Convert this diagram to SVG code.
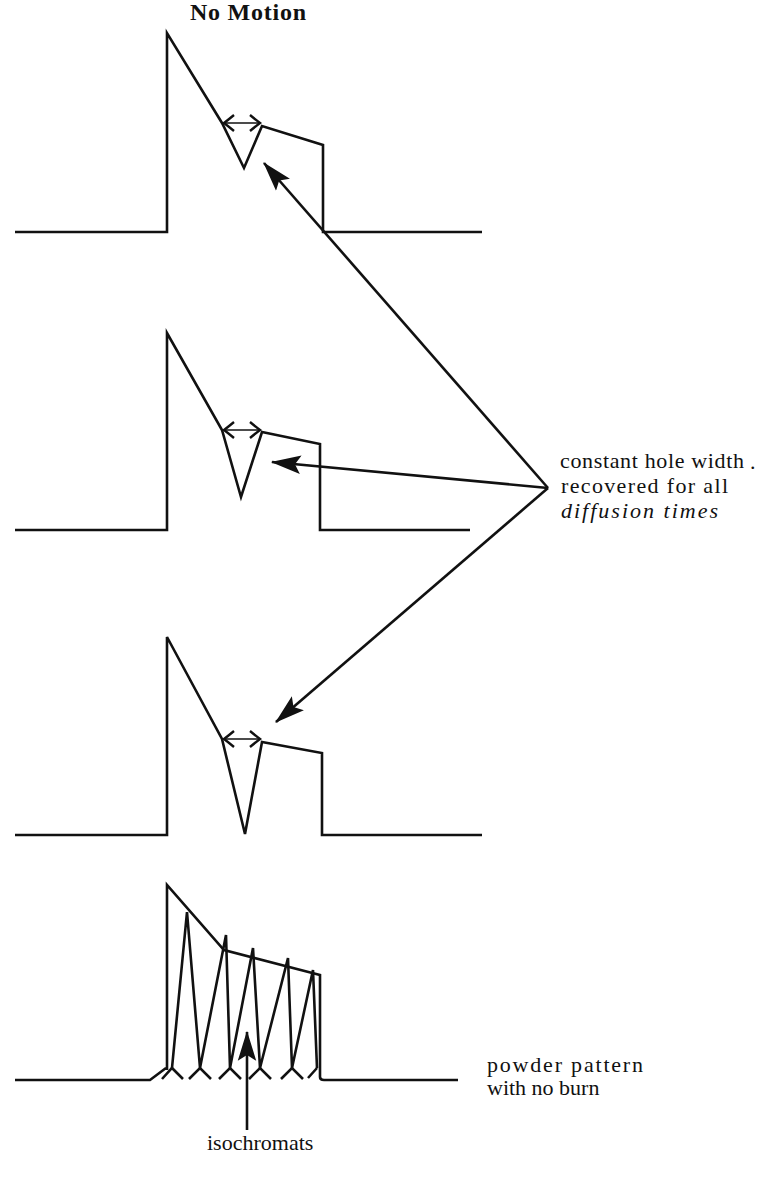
<svg xmlns="http://www.w3.org/2000/svg" width="775" height="1192" viewBox="0 0 775 1192">
<style>
.sp{fill:none;stroke:#111;stroke-width:2.6;stroke-linejoin:miter;stroke-linecap:butt}
.dbl{fill:none;stroke:#111;stroke-width:1.6}
.arr{fill:none;stroke:#111;stroke-width:2.6}
.lbl{font-family:"Liberation Serif","Times New Roman",serif;font-size:22px;fill:#111}
.ttl{font-family:"Liberation Serif","Times New Roman",serif;font-size:24px;fill:#111;font-weight:bold}
</style>
<defs>
<marker id="head" markerUnits="userSpaceOnUse" markerWidth="30" markerHeight="20" viewBox="0 0 26 16" refX="25" refY="8" orient="auto">
<path d="M0,0 L26,8 L0,16 L5,8 z" fill="#111"/>
</marker>
<marker id="chev" markerUnits="userSpaceOnUse" markerWidth="16" markerHeight="20" viewBox="-13 -10 16 20" refX="0" refY="0" orient="auto-start-reverse" overflow="visible">
<path d="M-10,-8 Q-4,-3 0,0 Q-4,3 -10,8" fill="none" stroke="#111" stroke-width="2.4"/>
</marker>
</defs>
<rect width="775" height="1192" fill="#fff"/>
<g id="title"><text class="ttl" x="190" y="20" textLength="116">No Motion</text></g>
<g id="spectrum1">
<path class="sp" d="M15,232 H167 V33 L222,123 L244,168 L262,126 L323,145 V232 H482"/>
<path class="dbl" d="M224,123 H260" marker-start="url(#chev)" marker-end="url(#chev)"/>
</g>
<g id="spectrum2">
<path class="sp" d="M15,530 H167 V333 L222,430 L241,497 L262,432 L320,444 V530 H470"/>
<path class="dbl" d="M224,430 H260" marker-start="url(#chev)" marker-end="url(#chev)"/>
</g>
<g id="spectrum3">
<path class="sp" d="M15,835 H167 V637 L222,739 L245,834 L262,742 L322,753 V835 H482"/>
<path class="dbl" d="M224,739 H260" marker-start="url(#chev)" marker-end="url(#chev)"/>
</g>
<g id="spectrum4">
<path class="sp" d="M15,1080 H150 L166,1068 M167,1070 V885 L224,950 L320,975 V1077 Q320,1080 324,1080 H458"/>
<path class="sp" d="M172,1068 L187,912 L200,1068 M200,1068 L226,935 L230,1068 M230,1068 L253,948 L260,1068 M260,1068 L288,958 L292,1068 M292,1068 L313,970 L317,1068"/>
<path class="sp" d="M162,1079 L172,1068 L183,1079 M189,1079 L200,1068 L211,1079 M219,1079 L230,1068 L241,1079 M249,1079 L260,1068 L271,1079 M281,1079 L292,1068 L303,1079 M308,1078 L317,1068"/>
</g>
<g id="connectors">
<path class="arr" d="M548,488 L264,163" marker-end="url(#head)"/>
<path class="arr" d="M548,488 L272,462" marker-end="url(#head)"/>
<path class="arr" d="M548,488 L276,722" marker-end="url(#head)"/>
<path class="arr" d="M247,1130 L247,1032" marker-end="url(#head)"/>
</g>
<g id="label-hole">
<text class="lbl" x="560" y="468" textLength="184">constant hole width</text>
<text class="lbl" x="750" y="469">.</text>
<text class="lbl" x="561" y="493" textLength="167">recovered for all</text>
<text class="lbl" x="561" y="518" textLength="157" font-style="italic">diffusion times</text>
</g>
<g id="label-powder">
<text class="lbl" x="487" y="1072" textLength="156">powder pattern</text>
<text class="lbl" x="487" y="1095" font-size="21">with no burn</text>
</g>
<g id="label-iso">
<text class="lbl" x="207" y="1150" font-size="20">isochromats</text>
</g>
</svg>
